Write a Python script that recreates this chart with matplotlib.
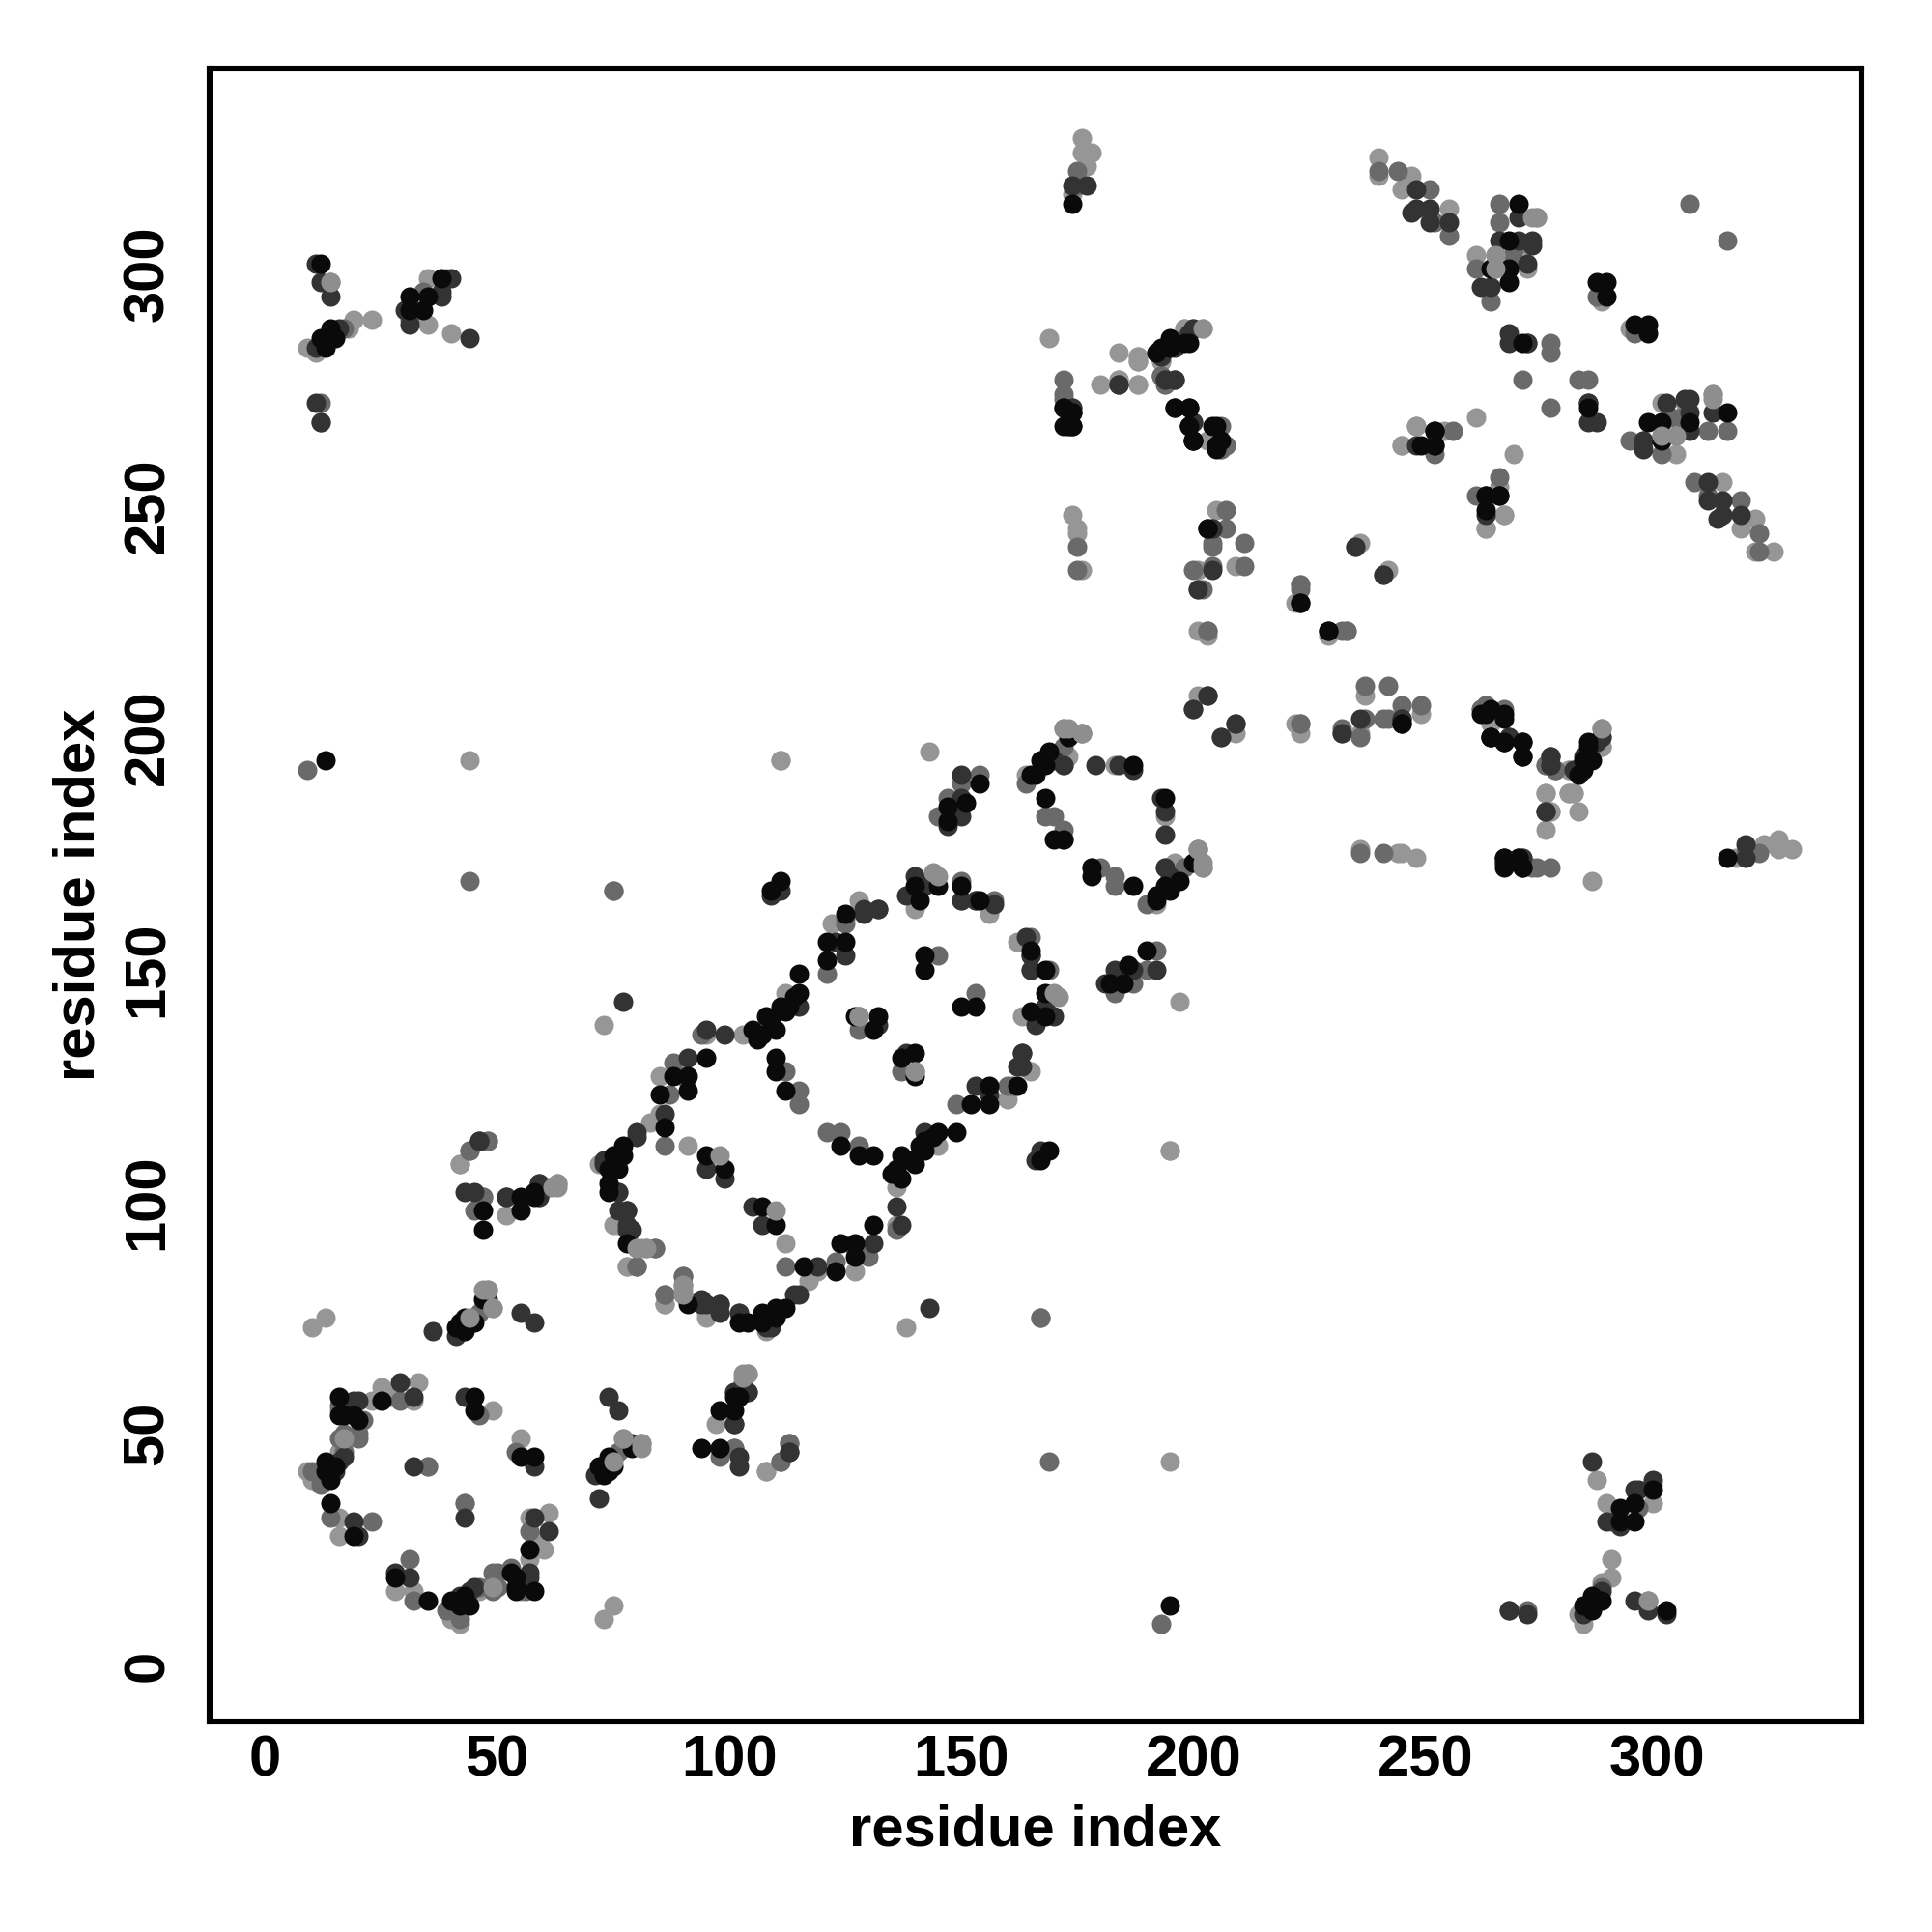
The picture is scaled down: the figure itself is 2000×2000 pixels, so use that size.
import numpy as np
import matplotlib
matplotlib.use('Agg')
import matplotlib.pyplot as plt

plt.rcParams['font.family'] = ['Liberation Sans', 'DejaVu Sans']
plt.rcParams['font.weight'] = 'bold'

tick_values = [0, 50, 100, 150, 200, 250, 300]

# contacts are (residue i, residue j) with i < j, map is symmetric
# one list per grey level
contacts_light = [
    (9,42),(10,40),(11,41),(16,46),(18,49),(16,32),(23,57),(27,58),(32,57),(33,61),(25,60),(16,28),(16,55),
    (35,43),(49,55),(10,73),(13,75),(108,42),
    (42,108),(52,97),
    (9,284),(11,283),(18,288),(19,290),(23,290),(35,299),(39,299),(35,289),(40,287),
    (72,108),(75,95),(80,90),(82,90),(78,86),(90,81),(86,78),(95,76),(91,112),(83,117),(85,119),(85,127),
    (95,136),(73,138),(103,136),(112,145),(122,160),(128,165),(140,163),(156,162),(128,140),
    (164,192),(173,196),(172,202),(183,194),(143,197),(44,195),(111,195),(195,111),
    (240,325),(240,321),(247,321),(245,318),(248,314),(255,314),(274,312),(261,304),(265,304),(265,301),(272,301),
    (272,306),(288,294),(248,267),(254,266),(245,263),(261,269),(248,267),(245,263),
    (176,329),(176,326),(178,326),(177,323),(174,317),
    (169,286),(180,276),(184,283),(184,277),(188,282),(188,281),(188,276),(193,281),(198,288),(193,278),(194,276),(203,264),(206,262),
    (174,248),(175,245),(175,244),(176,236),(201,236),(209,237),(205,249),(203,222),(201,223),(209,201),
    (222,229),(223,233),(236,242),(283,192),(281,193),(288,198),(288,202),
    (277,184),(276,188),(281,188),(282,188),
]
contacts_mid = [
    (10,42),(12,39),(17,46),(16,49),(17,50),(20,50),(20,49),(21,53),(16,56),(29,57),(14,32),(23,31),
    (46,54),(43,35),(47,101),(45,98),(59,101),(48,113),(44,111),(103,61),(111,44),(113,48),(101,47),
    (9,193),(44,169),(75,167),(46,76),(77,47),
    (14,298),(17,288),(12,272),(31,290),(34,296),(12,268),
    (76,102),(84,90),(80,86),(86,80),(90,84),(86,112),(87,123),(88,130),(90,127),(94,136),(112,128),(115,124),(115,121),
    (121,149),(125,160),(125,161),(150,165),(157,165),(150,169),(145,183),(147,187),(154,192),(150,190),
    (164,190),(172,194),(172,198),(168,183),(170,183),(172,180),(172,178),(167,75),(128,137),(145,153),
    (240,322),(244,322),(251,318),(252,311),(255,308),(266,315),(266,311),(269,305),(269,303),(261,301),
    (268,301),(264,294),(264,297),(287,295),(277,285),(277,283),(271,277),
    (307,315),(256,266),(252,261),
    (175,322),(175,319),(172,277),(172,274),(200,288),(206,267),(207,263),(175,236),(175,241),
    (202,232),(201,232),(204,237),(200,236),(211,237),(211,242),(204,241),(204,242),(207,245),(207,249),
    (203,223),(223,203),(232,223),(233,223),(235,241),(200,206),(262,206),(263,207),
    (174,271),(193,278),(276,194),(278,193),(282,193),(286,198),(273,172),
]
contacts_dark = [
    (15,42),(16,44),(17,45),(20,57),(19,57),(19,31),(20,28),(29,61),(32,58),(32,43),(43,58),(36,72),(55,76),(58,74),(41,71),
    (48,79),(43,102),(52,101),(59,104),(46,113),(102,45),(113,46),(101,52),(101,59),(104,59),
    (11,302),(12,298),(14,295),(11,284),(16,288),(30,292),(31,289),(38,295),(38,296),(40,299),(44,286),(11,272),
    (73,108),(76,98),(78,98),(78,94),(94,79),(95,78),(98,78),(102,76),(109,73),(80,115),(80,114),(86,119),
    (91,131),(95,137),(99,136),(99,105),(95,107),(77,143),(109,166),(111,167),(115,142),(125,153),(123,156),(129,163),(132,163),
    (138,166),(140,170),(142,168),(150,165),(153,165),(157,164),(165,153),(132,163),(129,162),(132,138),(181,147),
    (170,195),(172,194),(179,194),(184,194),(187,193),(183,150),(187,150),(192,150),(203,209),(206,200),(209,203),
    (248,318),(247,313),(248,314),(251,314),(251,311),(255,311),(270,312),(266,307),(270,307),(273,307),(273,306),
    (272,302),(262,297),(264,297),(268,287),(268,285),(272,285),(285,272),(248,263),(12,268),
    (174,319),(177,319),(173,267),(184,276),(193,283),(193,282),(196,284),(199,287),(194,277),(196,277),(200,268),
    (204,236),(204,245),(241,235),(232,201),(245,204),(267,199),(268,200),(267,173),(271,174),(277,196),(277,194),
    (283,193),(288,200),(285,195),(276,184),(199,267),
]
contacts_black = [
    (13,42),(13,44),(14,40),(14,42),(15,43),(16,58),(17,54),(19,54),(25,57),(14,35),(19,28),(16,54),(20,53),
    (45,58),(45,55),(41,73),(42,74),(43,72),(43,75),(44,74),(45,74),(47,79),(47,98),(47,94),(55,98),(55,101),(58,101),(58,102),
    (13,195),(12,302),(13,284),(12,286),(14,288),(15,286),(31,295),(31,292),(38,299),(35,295),(34,292),
    (74,104),(74,102),(75,110),(77,112),(77,110),(74,107),(76,107),(78,91),(86,116),(85,123),(91,124),
    (95,131),(91,127),(88,127),(95,110),(99,107),(106,135),(105,137),(107,136),(109,139),(110,137),(111,142),(112,141),(113,142),(115,145),(115,149),
    (121,152),(121,156),(125,156),(125,162),(141,165),(140,168),(145,168),(150,168),(154,165),(142,153),(142,150),
    (127,140),(132,140),(131,137),(110,128),(110,131),(112,124),(109,167),(111,169),(108,140),(114,144),
    (173,200),(169,197),(167,195),(165,192),(166,192),(168,194),(187,194),(168,187),(170,178),(172,178),(151,186),(154,190),(147,182),(147,185),
    (264,301),(268,307),(268,298),(287,298),(289,298),(289,295),(268,301),(270,315),(271,285),(252,266),(249,263),(252,263),(252,263),(252,266),
    (174,315),(172,271),(174,270),(174,267),(172,267),(195,286),(195,284),(199,285),(196,271),(199,271),(199,267),(200,264),(205,267),(205,263),
    (203,245),(223,229),(229,223),(245,203),(206,264),(204,267),(200,264),(264,200),(271,199),(271,196),
    (267,174),(270,174),(271,172),(284,193),(285,198),(283,192),(262,205),
]
# light dots that sit on top of the dark clusters
contacts_top = [
    (47,81),(48,81),(49,77),(62,103),(63,104),(81,48),(77,49),(75,44),(103,63),(104,63),
    (144,171),(145,170),(176,201),(173,202),(17,49),(80,90),(82,90),(98,110),(140,128),(128,140),
    (274,312),(273,312),(265,304),(265,301),(176,201),(201,176),(202,172),(202,288),(14,298),
]

fig = plt.figure(figsize=(10, 10), dpi=200)
ax = fig.add_axes([217 / 2000, 1 - 1782 / 2000, (1927 - 217) / 2000, (1782 - 71.4) / 2000])

for contacts, grey in [(contacts_light, '#969696'), (contacts_mid, '#6a6a6a'), (contacts_dark, '#333333'),
                       (contacts_black, '#0a0a0a'), (contacts_top, '#8e8e8e')]:
    res = np.array(contacts)
    ax.scatter(res[:, 0], res[:, 1], s=52, c=grey, linewidths=0)
    ax.scatter(res[:, 1], res[:, 0], s=52, c=grey, linewidths=0)

ax.set_xlim(-12, 344)
ax.set_ylim(-12, 344)
ax.set_xticks(tick_values)
ax.set_yticks(tick_values)
ax.tick_params(axis='x', length=0, labelsize=21.5, pad=5)
ax.tick_params(axis='y', length=0, labelsize=21.5, pad=13)
plt.setp(ax.get_yticklabels(), rotation=90, va='center')
for s in ax.spines.values():
    s.set_linewidth(2.2)
ax.set_xlabel('residue index', fontsize=21.5, fontweight='bold', labelpad=6)
ax.set_ylabel('residue index', fontsize=21.5, fontweight='bold', labelpad=6)

fig.savefig('out.png', dpi=200)
